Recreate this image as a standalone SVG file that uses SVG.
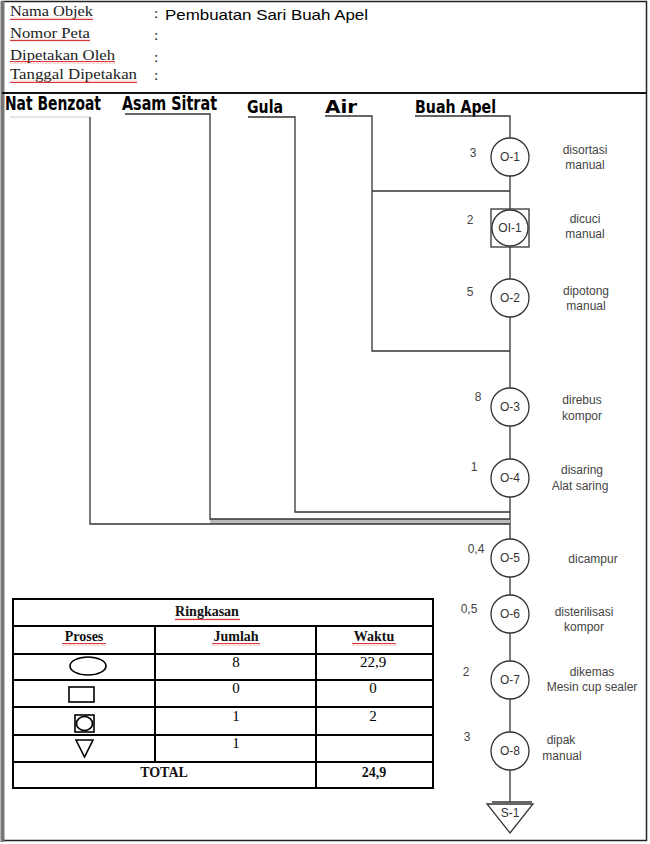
<svg xmlns="http://www.w3.org/2000/svg" width="650" height="844" viewBox="0 0 650 844">
<defs>
<pattern id="wavy" width="4" height="3" patternUnits="userSpaceOnUse"><path d="M0 2.2 L1 0.8 L2 2.2 L3 0.8 L4 2.2" fill="none" stroke="#d02020" stroke-width="0.9"/></pattern>
</defs>
<style>
.hdr{font-family:"Liberation Serif","Times New Roman",serif;font-size:15.5px;fill:#222}
.val{font-family:"Liberation Sans",Arial,sans-serif;font-size:15px;fill:#000}
.mat{font-family:"Liberation Sans Narrow","DejaVu Sans Condensed","Liberation Sans",sans-serif;font-weight:bold;fill:#000}
.ln{stroke:#333;stroke-width:1.3;fill:none}
.nd{fill:#fff;stroke:#333;stroke-width:1.3}
.in{font-family:"Liberation Sans",Arial,sans-serif;font-size:12px;fill:#333;text-anchor:middle}
.lb{font-family:"Liberation Sans",Arial,sans-serif;font-size:12px;fill:#444;text-anchor:middle}
.tm{font-family:"Liberation Sans",Arial,sans-serif;font-size:12px;fill:#444;text-anchor:middle}
.tb{stroke:#000;stroke-width:2;fill:none}
.tt{font-family:"Liberation Serif","Times New Roman",serif;font-size:15px;fill:#000;text-anchor:middle}
.th{font-family:"Liberation Serif","Times New Roman",serif;font-size:14px;font-weight:bold;fill:#111;text-anchor:middle}
.sym{fill:none;stroke:#000;stroke-width:1.6}
</style>
<rect x="0" y="0" width="650" height="844" fill="#fff"/>
<g id="frame">
<rect x="2" y="1.5" width="644.5" height="839" fill="none" stroke="#222" stroke-width="1.5"/>
<line x1="2.5" y1="1" x2="2.5" y2="842" stroke="#777" stroke-width="4"/>
<line x1="2" y1="93" x2="647" y2="93" stroke="#111" stroke-width="2"/>
</g>
<g id="header">
<text class="hdr" x="10" y="16" textLength="83" lengthAdjust="spacingAndGlyphs">Nama Objek</text>
<rect x="10" y="17" width="83" height="3" fill="url(#wavy)"/>
<text class="hdr" x="10" y="38" textLength="80" lengthAdjust="spacingAndGlyphs">Nomor Peta</text>
<rect x="10" y="39" width="80" height="3" fill="url(#wavy)"/>
<text class="hdr" x="10" y="60" textLength="105" lengthAdjust="spacingAndGlyphs">Dipetakan Oleh</text>
<rect x="10" y="61" width="105" height="3" fill="url(#wavy)"/>
<text class="hdr" x="10" y="79" textLength="127" lengthAdjust="spacingAndGlyphs">Tanggal Dipetakan</text>
<rect x="10" y="80" width="127" height="3" fill="url(#wavy)"/>
<text class="hdr" x="154" y="18">:</text>
<text class="hdr" x="154" y="40">:</text>
<text class="hdr" x="154" y="62">:</text>
<text class="hdr" x="154" y="80">:</text>
<text class="val" x="165" y="20" textLength="203" lengthAdjust="spacingAndGlyphs">Pembuatan Sari Buah Apel</text>
</g>
<g id="m-natbenzoat"><text class="mat" x="5" y="110" font-size="20" textLength="96" lengthAdjust="spacingAndGlyphs">Nat Benzoat</text></g>
<g id="m-asamsitrat"><text class="mat" x="122" y="110" font-size="20" textLength="95" lengthAdjust="spacingAndGlyphs">Asam Sitrat</text></g>
<g id="m-gula"><text class="mat" x="247" y="113" font-size="18" textLength="36" lengthAdjust="spacingAndGlyphs">Gula</text></g>
<g id="m-air"><text class="mat" x="325" y="113" font-size="18" textLength="32" lengthAdjust="spacingAndGlyphs">Air</text></g>
<g id="m-buahapel"><text class="mat" x="415" y="113" font-size="18" textLength="81" lengthAdjust="spacingAndGlyphs">Buah Apel</text></g>
<g id="connectors">
<polyline class="ln" points="415,116 510,116 510,138"/>
<line class="ln" x1="510" y1="176" x2="510" y2="209"/>
<line class="ln" x1="510" y1="247" x2="510" y2="279"/>
<line class="ln" x1="510" y1="317" x2="510" y2="388"/>
<line class="ln" x1="510" y1="426" x2="510" y2="459"/>
<line class="ln" x1="510" y1="497" x2="510" y2="539"/>
<line class="ln" x1="510" y1="577" x2="510" y2="595"/>
<line class="ln" x1="510" y1="633" x2="510" y2="661"/>
<line class="ln" x1="510" y1="699" x2="510" y2="732"/>
<line class="ln" x1="510" y1="770" x2="510" y2="802"/>
<polyline class="ln" points="325,116 372,116 372,351 510,351"/>
<line class="ln" x1="372" y1="191" x2="510" y2="191"/>
<polyline class="ln" points="248,117 295,117 295,512 510,512"/>
<rect x="210" y="519" width="300" height="5" fill="#bbb"/>
<polyline class="ln" points="125,114 210,114 210,519 510,519"/>
<line x1="10" y1="117" x2="90" y2="117" stroke="#ccc" stroke-width="1.2"/>
<polyline class="ln" points="90,117 90,524 510,524"/>
</g>
<g id="O-1"><circle class="nd" cx="510" cy="157" r="19"/><text class="in" x="510" y="161">O-1</text>
<text class="tm" x="473" y="157">3</text><text class="lb" x="585" y="154">disortasi</text><text class="lb" x="585" y="169">manual</text></g>
<g id="OI-1"><rect class="nd" x="491" y="209" width="38" height="38"/><circle class="nd" cx="510" cy="228" r="18"/><text class="in" x="510" y="232">OI-1</text>
<text class="tm" x="470" y="224">2</text><text class="lb" x="585" y="223">dicuci</text><text class="lb" x="585" y="238">manual</text></g>
<g id="O-2"><circle class="nd" cx="510" cy="298" r="19"/><text class="in" x="510" y="302">O-2</text>
<text class="tm" x="470" y="296">5</text><text class="lb" x="586" y="295">dipotong</text><text class="lb" x="586" y="310">manual</text></g>
<g id="O-3"><circle class="nd" cx="510" cy="407" r="19"/><text class="in" x="510" y="411">O-3</text>
<text class="tm" x="478" y="401">8</text><text class="lb" x="582" y="404">direbus</text><text class="lb" x="582" y="420">kompor</text></g>
<g id="O-4"><circle class="nd" cx="510" cy="478" r="19"/><text class="in" x="510" y="482">O-4</text>
<text class="tm" x="474" y="471">1</text><text class="lb" x="582" y="474">disaring</text><text class="lb" x="580" y="490">Alat saring</text></g>
<g id="O-5"><circle class="nd" cx="510" cy="558" r="19"/><text class="in" x="510" y="562">O-5</text>
<text class="tm" x="476" y="553">0,4</text><text class="lb" x="593" y="563">dicampur</text></g>
<g id="O-6"><circle class="nd" cx="510" cy="614" r="19"/><text class="in" x="510" y="618">O-6</text>
<text class="tm" x="469" y="613">0,5</text><text class="lb" x="584" y="616">disterilisasi</text><text class="lb" x="584" y="631">kompor</text></g>
<g id="O-7"><circle class="nd" cx="510" cy="680" r="19"/><text class="in" x="510" y="684">O-7</text>
<text class="tm" x="466" y="676">2</text><text class="lb" x="592" y="676">dikemas</text><text class="lb" x="592" y="691">Mesin cup sealer</text></g>
<g id="O-8"><circle class="nd" cx="510" cy="751" r="19"/><text class="in" x="510" y="755">O-8</text>
<text class="tm" x="467" y="741">3</text><text class="lb" x="561" y="744">dipak</text><text class="lb" x="562" y="760">manual</text></g>
<g id="S-1"><line class="ln" x1="492" y1="802" x2="532" y2="802"/><polygon class="nd" points="487,804 533,804 510,833"/><text class="in" x="510" y="817">S-1</text></g>
<g id="ringkasan">
<rect class="tb" x="13" y="599" width="420" height="189"/>
<line class="tb" x1="13" y1="626" x2="433" y2="626"/>
<line class="tb" x1="13" y1="654" x2="433" y2="654"/>
<line class="tb" x1="13" y1="680" x2="433" y2="680"/>
<line class="tb" x1="13" y1="707" x2="433" y2="707"/>
<line class="tb" x1="13" y1="735" x2="433" y2="735"/>
<line class="tb" x1="13" y1="762" x2="433" y2="762"/>
<line class="tb" x1="155" y1="626" x2="155" y2="762"/>
<line class="tb" x1="316" y1="626" x2="316" y2="788"/>
<text class="th" x="207" y="616">Ringkasan</text>
<rect x="175" y="618" width="65" height="3" fill="url(#wavy)"/>
<text class="th" x="84" y="641">Proses</text>
<rect x="62" y="643" width="44" height="3" fill="url(#wavy)"/>
<text class="th" x="236" y="641">Jumlah</text>
<rect x="212" y="643" width="48" height="3" fill="url(#wavy)"/>
<text class="th" x="374" y="641">Waktu</text>
<rect x="352" y="643" width="44" height="3" fill="url(#wavy)"/>
<ellipse class="sym" cx="88" cy="666" rx="18" ry="9"/>
<text class="tt" x="236" y="667">8</text><text class="tt" x="373" y="667">22,9</text>
<rect class="sym" x="69" y="687" width="25" height="15"/>
<text class="tt" x="236" y="693">0</text><text class="tt" x="373" y="693">0</text>
<rect class="sym" x="75" y="715" width="19" height="17"/><ellipse class="sym" cx="84.5" cy="723.5" rx="8" ry="7"/>
<text class="tt" x="236" y="721">1</text><text class="tt" x="373" y="721">2</text>
<polygon class="sym" points="76,740 93,740 84.5,757"/>
<text class="tt" x="236" y="748">1</text>
<text class="th" x="164" y="777">TOTAL</text><text class="th" x="374" y="777">24,9</text>
</g>
</svg>
